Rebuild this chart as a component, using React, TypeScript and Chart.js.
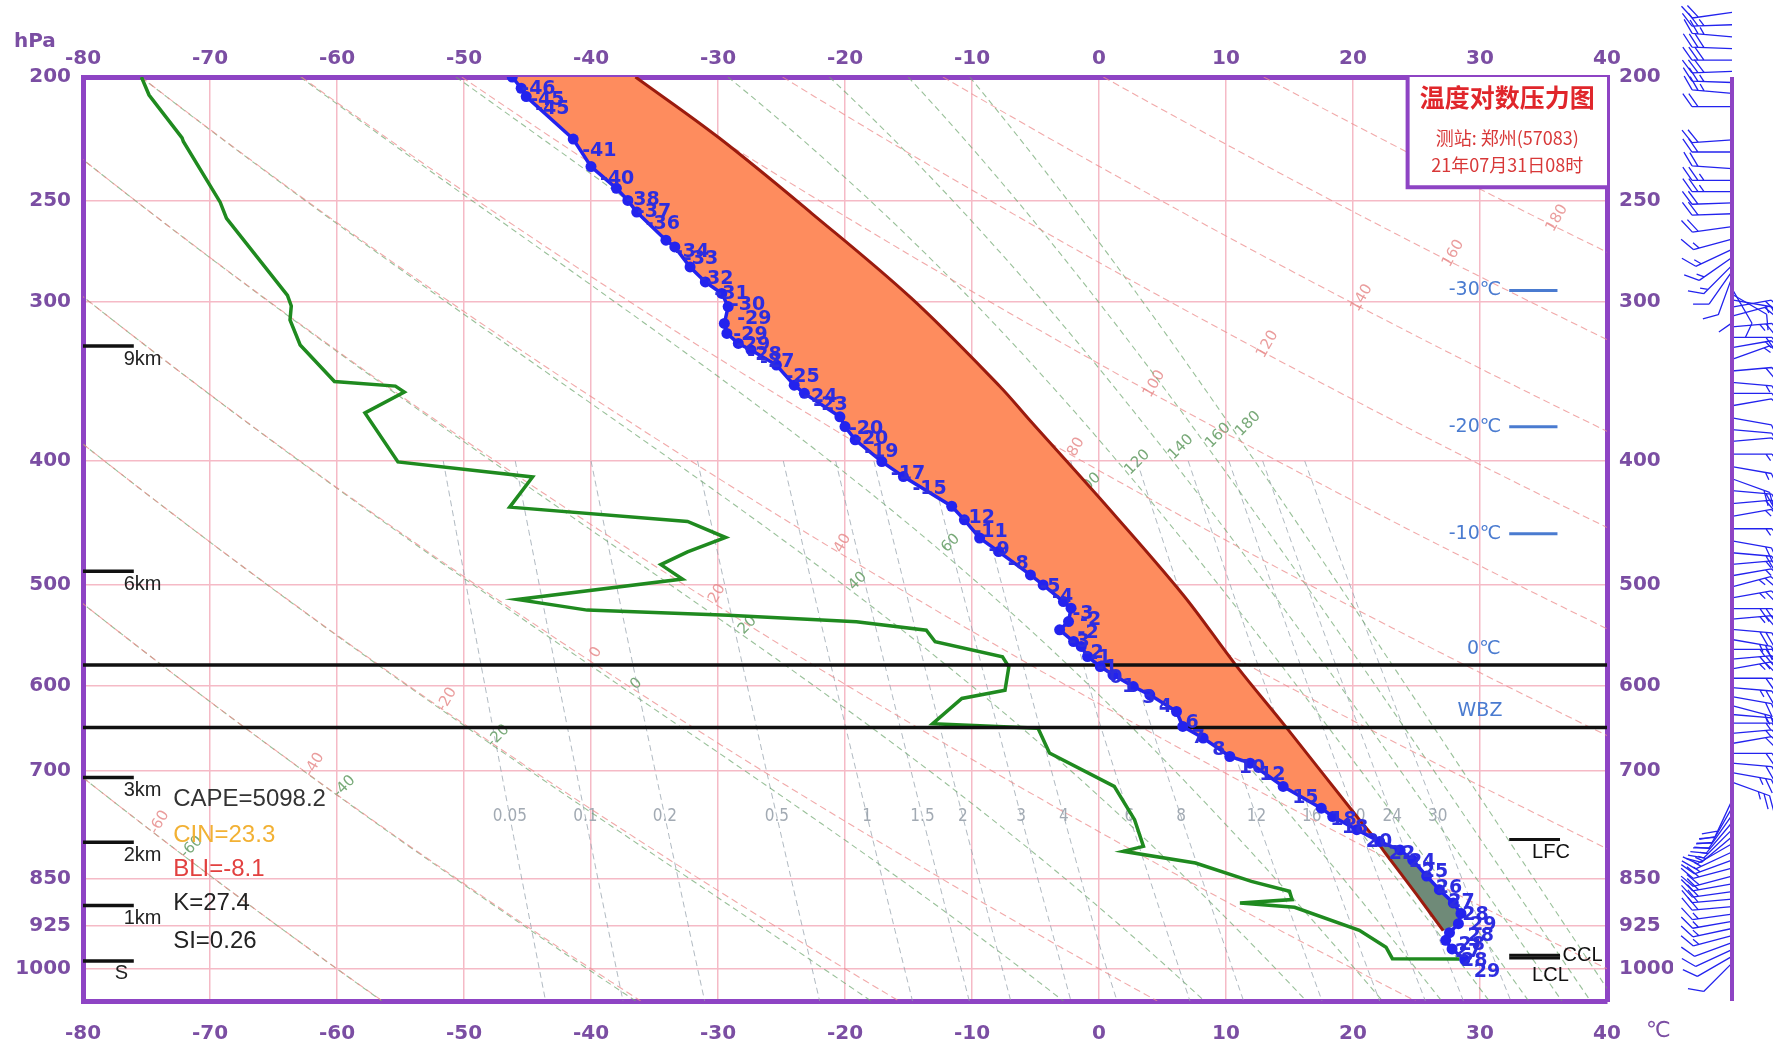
import React, { useEffect, useRef } from 'react';
import { Chart, registerables } from 'chart.js';

Chart.register(...registerables);

const CANVAS_W = 1773;
const CANVAS_H = 1046;

// ---------- axes ----------
const tempTicks = [-80, -70, -60, -50, -40, -30, -20, -10, 0, 10, 20, 30, 40];
const pressureTicks = [200, 250, 300, 400, 500, 600, 700, 850, 925, 1000];
const T_MIN = -80;
const T_MAX = 40;
const P_TOP = 200;
const P_BOTTOM = 1060;

// ---------- sounding: temperature (blue) ----------
const tempP = [200, 204.1, 207.2, 223.7, 235.1, 244.5, 249.9, 255.2, 268.5, 271.8, 281.8, 289.5, 295.6, 302.7, 312.0, 317.7, 323.5, 327.4, 336.4, 348.8, 354.0, 369.3, 375.9, 385.0, 400.4, 411.4, 434.0, 444.8, 459.6, 471.0, 491.3, 500.2, 515.5, 521.7, 534.4, 542.5, 554.0, 559.0, 569.2, 579.6, 588.3, 600.9, 610.0, 628.6, 645.8, 659.5, 681.8, 690.0, 719.7, 748.4, 759.8, 778, 795, 807, 822, 846, 867, 888, 905, 922, 937, 950, 965, 984];
const tempT = [-46.2, -45.5, -45.1, -41.4, -40.0, -38.0, -37.1, -36.4, -34.1, -33.4, -32.2, -31.0, -29.7, -29.2, -29.5, -29.3, -28.4, -27.4, -25.4, -24.0, -23.2, -20.4, -20.0, -19.2, -17.1, -15.4, -11.6, -10.6, -9.4, -7.9, -5.4, -4.4, -2.8, -2.2, -2.4, -3.1, -2.0, -1.4, -0.9, 0.1, 1.1, 2.7, 4.0, 6.1, 6.6, 8.2, 10.3, 11.9, 14.5, 17.5, 18.4, 20.3, 22.1, 23.7, 24.7, 25.8, 26.8, 27.9, 28.5, 28.3, 27.6, 27.3, 27.8, 28.8];

// ---------- dew point (green) ----------
const dewP = [200, 206.6, 223.2, 224.7, 250.7, 258.1, 296.6, 302.3, 310.1, 324.4, 346.5, 349.4, 353.2, 366.7, 400.6, 411.7, 434.7, 446.1, 459.2, 471.2, 482.2, 495, 513.5, 523.5, 528.3, 534.7, 542.8, 554.3, 569.5, 579.9, 604.9, 614, 642.7, 647.8, 677.6, 719.6, 764.1, 801.8, 809, 826.3, 854.1, 869.6, 882.7, 888, 895, 933, 962, 982, 982.5];
const dewT = [-75.4, -74.8, -72.2, -72.1, -69.2, -68.7, -63.9, -63.6, -63.7, -62.9, -60.2, -55.4, -54.7, -57.8, -55.2, -44.6, -46.4, -32.4, -29.4, -32.4, -34.5, -32.8, -45.8, -40.3, -29.2, -19.1, -13.6, -12.9, -7.6, -7.1, -7.4, -10.8, -13.1, -4.8, -3.9, 1.2, 2.8, 3.5, 1.9, 7.6, 12.0, 15.0, 15.2, 11.1, 15.4, 20.5, 22.6, 23.1, 28.4];

// ---------- lifted parcel (dark red) ----------
const parcelP = [200, 223.3, 255.9, 298, 349.6, 371.1, 428.2, 508.9, 578.6, 646, 759.8, 790, 813, 874.5, 933.6];
const parcelT = [-36.5, -29.9, -22.6, -14.8, -7.8, -5.5, 0.1, 6.6, 10.8, 14.7, 20.3, 21.7, 22.6, 25.0, 27.1];
const lfcP = 790;
const cinBottomP = 930;

// ---------- marked levels ----------
const freezingP = 578;
const wbzP = 647;
const lfcMarkP = 792;
const cclMarkP = 976;
const lclMarkP = 981;

const heightP = [325, 488, 708, 796, 892, 986];
const heightLabels = ['9km', '6km', '3km', '2km', '1km', 'S'];

const isoLabelT = [-30, -20, -10];
const isoLabelP = [294, 376, 456];

const indexLabels = ['CAPE=5098.2', 'CIN=23.3', 'BLI=-8.1', 'K=27.4', 'SI=0.26'];
const indexColors = ['#333333', '#f2b134', '#e2403f', '#222222', '#222222'];
const indexP = [736, 786, 836, 889, 952];

const titleLines = ['温度对数压力图', '测站: 郑州(57083)', '21年07月31日08时'];
const titleBoxT = 24.3;
const titleBoxP = 244;

// ---------- background isopleth labels ----------
const dryThetas = [-60, -40, -20, 0, 20, 40, 60, 80, 100, 120, 140, 160, 180];
const dryLabelP = [768, 692, 615, 565, 508, 464, 436, 390, 348, 324, 298, 275, 258];
const moistThetas = [-60, -40, -20, 0, 20, 40, 60, 80, 100, 120, 140, 160, 180];
const moistLabelP = [803, 720, 657, 598, 538, 497, 464, 440, 418, 401, 390, 382, 374];
const mixRatios = [0.05, 0.1, 0.2, 0.5, 1, 1.5, 2, 3, 4, 6, 8, 12, 16, 20, 24, 30];
const mixLabelP = 760;
const mixTopP = 400;

// ---------- winds ----------
const windP = [178, 182, 186, 190, 194, 198, 202, 206, 211, 224, 229, 236, 241, 246, 251, 256, 262, 268, 273, 277, 281, 284, 287, 290, 293, 296, 299,
  303, 308, 314, 320, 326, 333, 340, 347, 354, 362, 370, 378, 386, 395, 404, 413, 422, 432, 442, 452, 462, 472, 482, 492, 502, 512, 522, 532, 542, 552, 562, 572, 582, 592, 602, 612, 622, 632, 642, 654, 666, 678, 690, 702, 714,
  738, 748, 758, 768, 778, 788, 798, 810, 822, 834, 846, 858, 870, 882, 894, 906, 918, 930, 942, 954, 966, 978, 990];
const windDir = [262, 268, 275, 272, 270, 268, 272, 275, 270, 266, 270, 274, 270, 270, 268, 268, 262, 255, 245, 235, 225, 215, 200, 180, 150, 120, 100,
  80, 75, 85, 90, 80, 70, 85, 95, 90, 80, 100, 95, 85, 90, 100, 110, 95, 85, 80, 90, 100, 95, 85, 80, 75, 80, 90, 85, 95, 100, 90, 85, 80, 90, 95, 100, 105, 95, 90, 85, 80, 90, 95, 100, 110,
  205, 210, 215, 220, 225, 230, 240, 245, 250, 255, 255, 260, 262, 265, 265, 262, 260, 258, 255, 250, 245, 240, 225];
const windSpd = [8, 10, 10, 12, 12, 12, 10, 10, 8, 8, 8, 8, 10, 10, 8, 8, 8, 6, 6, 6, 6, 4, 4, 4, 4, 4, 6,
  8, 8, 10, 8, 6, 6, 8, 6, 4, 4, 4, 4, 4, 6, 6, 8, 8, 8, 6, 6, 8, 8, 6, 6, 10, 10, 12, 10, 12, 10, 10, 12, 10, 8, 10, 8, 6, 6, 6, 6, 8, 8, 8, 10, 10,
  8, 8, 8, 8, 6, 6, 6, 6, 6, 8, 8, 8, 8, 8, 8, 6, 6, 6, 6, 4, 4, 4, 4];

// ---------- colours / fonts ----------
const PURPLE = '#8e44c4';
const TICK_COLOR = '#7b4ea3';
const GRID = 'rgb(245,186,198)';
const BLUE = '#2323ee';
const ISO_BLUE = '#4a7bd0';
const UI_FONT = '"DejaVu Sans", "Noto Sans", sans-serif';
const TXT_FONT = '"Liberation Sans", Arial, sans-serif';
const CJK_FONT = '"Noto Sans CJK SC", "Noto Sans", sans-serif';

// ---------- thermodynamic isopleths (diagram construction) ----------
const KAPPA = 0.2857;
const dryT = (thetaC: number, p: number) => (thetaC + 273.15) * Math.pow(p / 1000, KAPPA) - 273.15;
const satVap = (tc: number) => 6.112 * Math.exp((17.67 * tc) / (tc + 243.5));
const thetaSe = (tc: number, p: number) => {
  const T = tc + 273.15;
  const es = satVap(tc);
  if (es > p * 0.8) return 1e9;
  const w = (0.622 * es) / (p - es);
  return T * Math.pow(1000 / p, KAPPA) * Math.exp((2.5e6 * w) / (1005 * T));
};
const moistT = (thetaC: number, p: number) => {
  const target = thetaC + 273.15;
  let lo = -160;
  let hi = 70;
  for (let k = 0; k < 60; k++) {
    const mid = (lo + hi) / 2;
    if (thetaSe(mid, p) > target) hi = mid;
    else lo = mid;
  }
  return (lo + hi) / 2;
};
const mixT = (w: number, p: number) => {
  const e = (w * p) / (622 + w);
  const L = Math.log(e / 6.112);
  const tw = (243.5 * L) / (17.67 - L);
  if (tw < 0) return (272.62 * L) / (22.46 - L);
  return tw;
};

const linePressures = Array.from({ length: 48 }, (_, i) => P_TOP * Math.pow(P_BOTTOM / P_TOP, i / 47));
const mixPressures = Array.from({ length: 24 }, (_, i) => mixTopP * Math.pow(P_BOTTOM / mixTopP, i / 23));

const xy = (ts: number[], ps: number[]) => ts.map((t, i) => ({ x: t, y: ps[i] }));

const lineDataset = (data: any[], color: string, width: number, order: number, dash: number[] = []) => ({
  data,
  showLine: true,
  borderColor: color,
  borderWidth: width,
  borderDash: dash,
  pointRadius: 0,
  pointHoverRadius: 0,
  fill: false,
  tension: 0,
  order,
});

function buildDatasets() {
  const ds: any[] = [];
  dryThetas.forEach((th) => {
    ds.push(lineDataset(linePressures.map((p) => ({ x: dryT(th, p), y: p })), 'rgba(236,140,140,0.75)', 1.1, 100, [7, 4]));
  });
  moistThetas.forEach((th) => {
    ds.push(lineDataset(linePressures.map((p) => ({ x: moistT(th, p), y: p })), 'rgba(110,165,110,0.7)', 1.1, 101, [6, 4]));
  });
  mixRatios.forEach((w) => {
    ds.push(lineDataset(mixPressures.map((p) => ({ x: mixT(w, p), y: p })), 'rgba(150,162,172,0.75)', 1.0, 102, [6, 4]));
  });

  const parcelPts = xy(parcelT, parcelP);
  const tempPts = xy(tempT, tempP);
  const capeShape = [
    ...parcelPts.filter((pt) => pt.y <= lfcP),
    ...tempPts.filter((pt) => pt.y < lfcP).reverse(),
  ];
  const cinShape = [
    ...parcelPts.filter((pt) => pt.y >= lfcP),
    ...tempPts.filter((pt) => pt.y > lfcP && pt.y <= cinBottomP).reverse(),
  ];
  ds.push({ ...lineDataset(capeShape, 'rgba(0,0,0,0)', 0, 60), fill: 'shape', backgroundColor: '#fe8c5e' });
  ds.push({ ...lineDataset(cinShape, 'rgba(0,0,0,0)', 0, 59), fill: 'shape', backgroundColor: '#6f8a78' });

  ds.push({ ...lineDataset(parcelPts, '#9b1b0e', 3, 40), tension: 0.35 });
  ds.push(lineDataset(xy(dewT, dewP), '#1f8a1f', 3.5, 30));

  // freezing level and wet-bulb zero
  ds.push(lineDataset([{ x: T_MIN, y: freezingP }, { x: T_MAX, y: freezingP }], '#111111', 3.5, 20));
  ds.push(lineDataset([{ x: T_MIN, y: wbzP }, { x: T_MAX, y: wbzP }], '#111111', 3.5, 20));

  // height markers
  heightP.forEach((p) => ds.push(lineDataset([{ x: -80, y: p }, { x: -76, y: p }], '#111111', 3.5, 15)));
  // isotherm markers on the right
  isoLabelP.forEach((p) => ds.push(lineDataset([{ x: 32.3, y: p }, { x: 36.1, y: p }], ISO_BLUE, 3, 15)));
  // LFC / CCL / LCL markers
  ds.push(lineDataset([{ x: 32.3, y: lfcMarkP }, { x: 36.3, y: lfcMarkP }], '#111111', 3, 15));
  ds.push(lineDataset([{ x: 32.3, y: cclMarkP }, { x: 36.3, y: cclMarkP }], '#111111', 3, 15));
  ds.push(lineDataset([{ x: 32.3, y: lclMarkP }, { x: 36.3, y: lclMarkP }], '#111111', 3, 15));

  // temperature curve on top
  ds.push({
    ...lineDataset(tempPts, BLUE, 3.5, 5),
    pointRadius: 5.5,
    pointBackgroundColor: BLUE,
    pointBorderColor: BLUE,
    pointBorderWidth: 0,
  });
  return ds;
}

const bgLabelPlugin = {
  id: 'bgLabels',
  beforeDatasetsDraw(chart: any) {
    const { ctx, chartArea: a } = chart;
    const X = (t: number) => chart.scales.x.getPixelForValue(t);
    const Y = (p: number) => chart.scales.y.getPixelForValue(p);
    ctx.save();
    ctx.beginPath();
    ctx.rect(a.left, a.top, a.right - a.left, a.bottom - a.top);
    ctx.clip();
    ctx.textAlign = 'center';
    ctx.textBaseline = 'middle';
    ctx.font = `15px ${UI_FONT}`;
    ctx.fillStyle = 'rgba(230,140,140,0.85)';
    dryThetas.forEach((th, i) => {
      const p = dryLabelP[i];
      ctx.save();
      ctx.translate(X(dryT(th, p) + 1.5), Y(p));
      ctx.rotate(-Math.PI / 3);
      ctx.fillText(String(th), 0, 0);
      ctx.restore();
    });
    ctx.fillStyle = 'rgba(105,160,105,0.9)';
    moistThetas.forEach((th, i) => {
      const p = moistLabelP[i];
      ctx.save();
      ctx.translate(X(moistT(th, p) + 1.5), Y(p));
      ctx.rotate(-Math.PI / 4);
      ctx.fillText(String(th), 0, 0);
      ctx.restore();
    });
    ctx.font = `17px "DejaVu Sans Condensed", ${UI_FONT}`;
    ctx.fillStyle = '#a2aab3';
    mixRatios.forEach((w) => {
      ctx.fillText(String(w), X(mixT(w, mixLabelP)), Y(mixLabelP));
    });
    ctx.restore();
  },
};

const overlayPlugin = {
  id: 'overlay',
  afterDatasetsDraw(chart: any) {
    const { ctx, chartArea: a } = chart;
    const X = (t: number) => chart.scales.x.getPixelForValue(t);
    const Y = (p: number) => chart.scales.y.getPixelForValue(p);
    ctx.save();
    ctx.beginPath();
    ctx.rect(a.left, a.top, a.right - a.left, a.bottom - a.top);
    ctx.clip();

    // value labels along the temperature curve
    ctx.font = `bold 19px ${UI_FONT}`;
    ctx.fillStyle = '#2d2de0';
    ctx.textAlign = 'left';
    ctx.textBaseline = 'middle';
    tempT.forEach((t, i) => {
      ctx.fillText(String(Math.round(t) + 0), X(t) + 9, Y(tempP[i]) + 12);
    });

    // height labels
    ctx.font = `20px ${TXT_FONT}`;
    ctx.fillStyle = '#222222';
    ctx.textBaseline = 'top';
    heightLabels.forEach((lab, i) => {
      ctx.fillText(lab, X(lab === 'S' ? -77.5 : -76.8), Y(heightP[i]) + 3);
    });

    // stability indices
    ctx.font = `24px ${TXT_FONT}`;
    ctx.textBaseline = 'middle';
    indexLabels.forEach((lab, i) => {
      ctx.fillStyle = indexColors[i];
      ctx.fillText(lab, X(-72.9), Y(indexP[i]));
    });

    // isotherm height labels
    ctx.font = `19px ${UI_FONT}`;
    ctx.fillStyle = ISO_BLUE;
    ctx.textAlign = 'center';
    isoLabelT.forEach((t, i) => {
      ctx.fillText(`${t}℃`, X(29.6), Y(isoLabelP[i]));
    });
    ctx.fillText('0℃', X(30.3), Y(freezingP) - 16);
    ctx.fillText('WBZ', X(30.0), Y(wbzP) - 16);

    // LFC / CCL / LCL text
    ctx.font = `20px ${TXT_FONT}`;
    ctx.fillStyle = '#111111';
    ctx.textAlign = 'left';
    ctx.fillText('LFC', X(34.1), Y(lfcMarkP) + 13);
    ctx.fillText('CCL', X(36.5), Y(cclMarkP));
    ctx.fillText('LCL', X(34.1), Y(lclMarkP) + 17);
    ctx.restore();

    // title box
    const bx = X(titleBoxT);
    const by2 = Y(titleBoxP);
    ctx.save();
    ctx.fillStyle = '#ffffff';
    ctx.fillRect(bx, a.top, a.right - bx, by2 - a.top);
    ctx.strokeStyle = PURPLE;
    ctx.lineWidth = 4;
    ctx.beginPath();
    ctx.moveTo(bx, a.top);
    ctx.lineTo(bx, by2);
    ctx.lineTo(a.right, by2);
    ctx.stroke();
    const cx = (bx + a.right) / 2;
    ctx.textAlign = 'center';
    ctx.textBaseline = 'middle';
    ctx.fillStyle = '#e0262b';
    ctx.font = `bold 25px ${CJK_FONT}`;
    ctx.fillText(titleLines[0], cx, a.top + 20);
    ctx.fillStyle = '#d83838';
    ctx.font = `18px ${CJK_FONT}`;
    ctx.fillText(titleLines[1], cx, a.top + 61);
    ctx.fillText(titleLines[2], cx, a.top + 88);
    ctx.restore();
  },
};

const windPlugin = {
  id: 'winds',
  afterDraw(chart: any) {
    const { ctx, chartArea: a } = chart;
    const Y = (p: number) => chart.scales.y.getPixelForValue(p);
    const sx = 1732;
    ctx.save();
    ctx.strokeStyle = BLUE;
    ctx.lineWidth = 1.3;
    const L = 40;
    const fa = (55 * Math.PI) / 180;
    windP.forEach((p, i) => {
      const py = Y(p);
      const ang = (windDir[i] * Math.PI) / 180;
      const ux = Math.sin(ang);
      const uy = -Math.cos(ang);
      const tx = sx + ux * L;
      const ty = py + uy * L;
      const fx = ux * Math.cos(fa) - uy * Math.sin(fa);
      const fy = ux * Math.sin(fa) + uy * Math.cos(fa);
      ctx.beginPath();
      ctx.moveTo(sx, py);
      ctx.lineTo(tx, ty);
      let s = windSpd[i];
      let pos = 0;
      while (s >= 4) {
        const bx = tx - ux * pos;
        const by = ty - uy * pos;
        ctx.moveTo(bx, by);
        ctx.lineTo(bx + fx * 16, by + fy * 16);
        pos += 6;
        s -= 4;
      }
      if (s >= 2) {
        const bx = tx - ux * pos;
        const by = ty - uy * pos;
        ctx.moveTo(bx, by);
        ctx.lineTo(bx + fx * 8, by + fy * 8);
      }
      ctx.stroke();
    });
    ctx.strokeStyle = PURPLE;
    ctx.lineWidth = 4;
    ctx.beginPath();
    ctx.moveTo(sx, a.top);
    ctx.lineTo(sx, a.bottom);
    ctx.stroke();

    ctx.fillStyle = TICK_COLOR;
    ctx.font = `bold 20px ${UI_FONT}`;
    ctx.textAlign = 'left';
    ctx.textBaseline = 'middle';
    ctx.fillText('hPa', 14, 42);
    ctx.font = `22px ${UI_FONT}`;
    ctx.fillText('℃', 1646, 1031);
    ctx.restore();
  },
};

const tickFont = { family: UI_FONT, size: 20, weight: 'bold' as const };

function xScale(position: 'top' | 'bottom') {
  return {
    type: 'linear' as const,
    position,
    min: T_MIN,
    max: T_MAX,
    bounds: 'data' as const,
    afterBuildTicks: (s: any) => {
      s.ticks = tempTicks.map((v) => ({ value: v }));
    },
    afterFit: (s: any) => {
      s.height = position === 'bottom' ? 45 : 77;
    },
    grid: position === 'bottom'
      ? { color: GRID, lineWidth: 1.5, drawTicks: false }
      : { drawOnChartArea: false, drawTicks: false },
    border: { color: PURPLE, width: 5 },
    ticks: {
      color: TICK_COLOR,
      font: tickFont,
      padding: position === 'bottom' ? 21 : 6,
      autoSkip: false,
      maxRotation: 0,
      callback: (v: any) => String(v),
    },
  };
}

function yScale(position: 'left' | 'right') {
  return {
    type: 'logarithmic' as const,
    position,
    reverse: true,
    min: P_TOP,
    max: P_BOTTOM,
    bounds: 'data' as const,
    afterBuildTicks: (s: any) => {
      s.ticks = pressureTicks.map((v) => ({ value: v }));
    },
    afterFit: (s: any) => {
      s.width = position === 'left' ? 83 : 66;
    },
    grid: position === 'left'
      ? { color: GRID, lineWidth: 1.5, drawTicks: false }
      : { drawOnChartArea: false, drawTicks: false },
    border: { color: PURPLE, width: 5 },
    ticks: {
      color: TICK_COLOR,
      font: tickFont,
      padding: 12,
      autoSkip: false,
      callback: (v: any) => String(v),
    },
  };
}

export default function App() {
  const ref = useRef<HTMLCanvasElement | null>(null);
  useEffect(() => {
    const canvas = ref.current;
    if (!canvas) return;
    const chart = new Chart(canvas, {
      type: 'scatter',
      data: { datasets: buildDatasets() },
      options: {
        animation: false,
        responsive: false,
        devicePixelRatio: 1,
        events: [],
        layout: { padding: { left: 0, right: 100, top: 0, bottom: 0 } },
        plugins: { legend: { display: false }, tooltip: { enabled: false }, title: { display: false } },
        scales: {
          x: xScale('bottom'),
          x2: xScale('top'),
          y: yScale('left'),
          y2: yScale('right'),
        } as any,
      },
      plugins: [bgLabelPlugin, overlayPlugin, windPlugin],
    } as any);
    return () => chart.destroy();
  }, []);
  return (
    <div style={{ position: 'fixed', left: 0, top: 0, width: CANVAS_W, height: CANVAS_H, background: '#ffffff' }}>
      <canvas ref={ref} width={CANVAS_W} height={CANVAS_H} style={{ display: 'block', width: CANVAS_W, height: CANVAS_H }} />
    </div>
  );
}
